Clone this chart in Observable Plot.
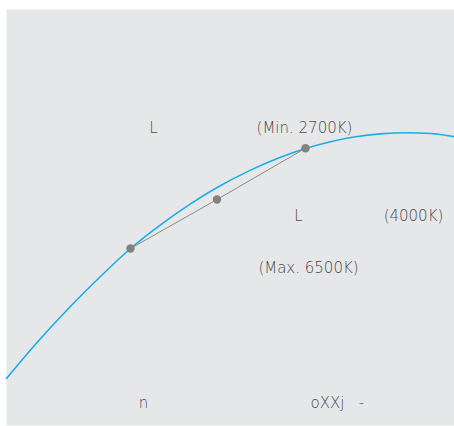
<!DOCTYPE html>
<html>
<head>
<meta charset="utf-8">
<script src="https://cdn.jsdelivr.net/npm/d3@7"></script>
<script src="https://cdn.jsdelivr.net/npm/@observablehq/plot@0.6"></script>
<style>
  html, body { margin: 0; padding: 0; background: #ffffff; }
  #chart svg { display: block; }
</style>
</head>
<body>
<div id="chart"></div>
<script>
// Locus curve (chart units: x to the right, y upward)
const locusX = [0, 31, 61, 94, 124, 154, 184, 211, 244, 274, 299, 324, 349, 374, 401, 424, 448];
const locusY = [47, 83.5, 116, 149, 177, 200.7, 221.7, 238.2, 255.4, 268.3, 277, 283.8, 288.7, 291.6, 292.7, 292, 288.8];

// Tunable range points: min, mid, max
const pointX = [124, 210.5, 299];
const pointY = [177, 226, 277.3];

// Labels
const labelText = ["L", "(Min. 2700K)", "L", "(4000K)", "(Max. 6500K)", "n", "oXXj", "-"];
const labelX = [147, 298, 292, 407, 302, 137, 321, 355];
const labelY = [297, 297, 209, 209, 157, 22, 22, 22];

const locus = locusX.map((x, i) => ({x, y: locusY[i]}));
const pts = pointX.map((x, i) => ({x, y: pointY[i]}));
const labels = labelText.map((t, i) => ({t, x: labelX[i], y: labelY[i]}));

const chart = Plot.plot({
  width: 454,
  height: 426,
  marginLeft: 6,
  marginRight: 0,
  marginTop: 9,
  marginBottom: 1,
  x: {domain: [0, 448], axis: null},
  y: {domain: [0, 416], axis: null},
  style: {background: "#ffffff", fontFamily: "DejaVu Sans"},
  marks: [
    Plot.frame({fill: "#e6e7e8", stroke: null}),
    Plot.line(locus, {x: "x", y: "y", stroke: "#1aaee5", strokeWidth: 1.6, curve: "monotone-x"}),
    Plot.line(pts, {x: "x", y: "y", stroke: "#8a8a8a", strokeWidth: 1}),
    Plot.dot(pts, {x: "x", y: "y", r: 4.2, fill: "#828282", stroke: null}),
    Plot.text(labels, {x: "x", y: "y", text: "t", fill: "#4a4a4a", fontSize: 15, fontWeight: 200, textAnchor: "middle", lineAnchor: "middle"})
  ]
});
document.getElementById("chart").appendChild(chart);
</script>
</body>
</html>
